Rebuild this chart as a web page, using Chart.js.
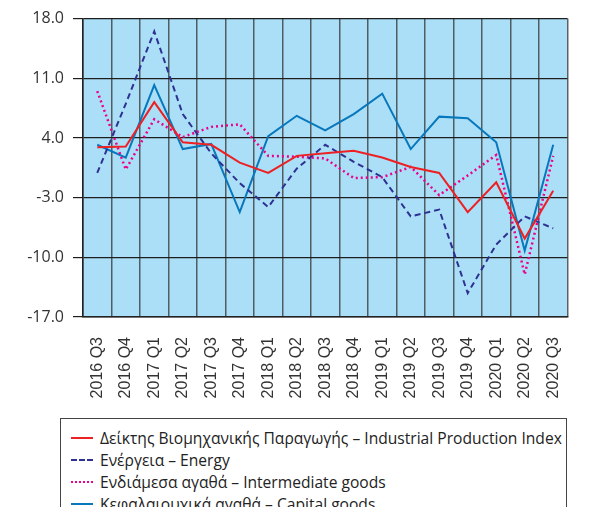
<!DOCTYPE html>
<html>
<head>
<meta charset="utf-8">
<script src="https://cdn.jsdelivr.net/npm/chart.js@4.4.1/dist/chart.umd.min.js"></script>
<style>
  html, body { margin: 0; padding: 0; background: #fff; overflow: hidden; }
  body { width: 593px; height: 507px; position: relative; }
  #wrap { position: absolute; left: 0; top: 0; width: 593px; height: 415px; }
  #legend {
    position: absolute; left: 60px; top: 418px; width: 507px; height: 120px;
    border: 1px solid #444; box-sizing: border-box; padding-top: 8px;
    font-family: "Open Sans", "Noto Sans", sans-serif; font-size: 15.6px; color: #222;
  }
  .item { height: 22px; display: flex; align-items: center; white-space: nowrap; }
  .swatch { width: 22px; margin-left: 10px; margin-right: 7px; height: 0; }
</style>
</head>
<body>
<div id="wrap"><canvas id="chart"></canvas></div>
<div id="legend"></div>
<script>
const quarters = ['2016 Q3','2016 Q4','2017 Q1','2017 Q2','2017 Q3','2017 Q4','2018 Q1','2018 Q2',
                  '2018 Q3','2018 Q4','2019 Q1','2019 Q2','2019 Q3','2019 Q4','2020 Q1','2020 Q2','2020 Q3'];

const industrialIndex = [2.9, 3.0, 8.2, 3.5, 3.2, 1.1, -0.1, 1.9, 2.2, 2.5, 1.7, 0.6, -0.1, -4.7, -1.2, -7.8, -2.2];
const energy          = [-0.1, 8.0, 16.5, 6.8, 2.2, -1.3, -4.1, 0.4, 3.2, 1.2, -0.6, -5.2, -4.4, -14.2, -8.5, -5.2, -6.6];
const intermediate    = [9.5, 0.3, 6.2, 4.1, 5.3, 5.6, 1.9, 1.8, 1.6, -0.7, -0.6, 0.6, -2.7, -0.4, 2.0, -12.0, 1.9];
const capitalGoods    = [3.2, 1.7, 10.2, 2.7, 3.3, -4.7, 4.2, 6.6, 4.9, 6.8, 9.2, 2.7, 6.5, 6.3, 3.5, -9.2, 3.2];

const yTicks = { min: -17, max: 18, step: 7 };

// light blue plot background
const plotBg = {
  id: 'plotBg',
  beforeDraw(chart) {
    const { ctx, chartArea: a } = chart;
    ctx.save();
    ctx.fillStyle = '#aadff7';
    ctx.fillRect(a.left, a.top, a.right - a.left, a.bottom - a.top);
    ctx.restore();
  }
};

const chart = new Chart(document.getElementById('chart'), {
  type: 'line',
  data: {
    labels: quarters,
    datasets: [
      { label: 'Δείκτης Βιομηχανικής Παραγωγής – Industrial Production Index', data: industrialIndex,
        borderColor: '#ed2024', borderWidth: 2 },
      { label: 'Ενέργεια – Energy', data: energy,
        borderColor: '#2e3192', borderWidth: 2, borderDash: [6, 4] },
      { label: 'Ενδιάμεσα αγαθά – Intermediate goods', data: intermediate,
        borderColor: '#ec008c', borderWidth: 2.5, borderDash: [2, 3] },
      { label: 'Κεφαλαιουχικά αγαθά – Capital goods', data: capitalGoods,
        borderColor: '#0877bc', borderWidth: 2 },
    ],
  },
  options: {
    responsive: true,
    maintainAspectRatio: false,
    animation: false,
    elements: { point: { radius: 0 }, line: { tension: 0, fill: false } },
    layout: { padding: { top: 15, right: 20, left: 0, bottom: 0 } },
    plugins: { legend: { display: false }, tooltip: { enabled: false } },
    scales: {
      x: {
        offset: true,
        grid: { offset: true, color: 'rgba(50,50,50,0.75)', lineWidth: 1.5, drawTicks: false },
        border: { color: '#222', width: 1.5 },
        ticks: {
          minRotation: 90, maxRotation: 90, padding: 20, autoSkip: false,
          color: '#333', font: { family: 'Liberation Sans', size: 16 },
        },
        afterFit(s) { s.height = 98; },
      },
      y: {
        min: yTicks.min, max: yTicks.max,
        grid: { color: '#1e1e1e', lineWidth: 1.2, tickLength: 10 },
        border: { color: '#222', width: 1.5 },
        ticks: {
          stepSize: yTicks.step, padding: 9, color: '#333',
          font: { family: 'Open Sans', size: 16 },
          callback: v => v.toFixed(1),
        },
        afterFit(s) { s.width = 83; },
      },
    },
  },
  plugins: [plotBg],
});

// legend box below the chart, built from the datasets
const legend = document.getElementById('legend');
chart.data.datasets.forEach(ds => {
  const row = document.createElement('div');
  row.className = 'item';
  const sw = document.createElement('span');
  sw.className = 'swatch';
  const style = ds.borderDash ? (ds.borderDash[0] > 3 ? 'dashed' : 'dotted') : 'solid';
  sw.style.borderTop = `2px ${style} ${ds.borderColor}`;
  const txt = document.createElement('span');
  txt.textContent = ds.label;
  row.append(sw, txt);
  legend.appendChild(row);
});
</script>
</body>
</html>
